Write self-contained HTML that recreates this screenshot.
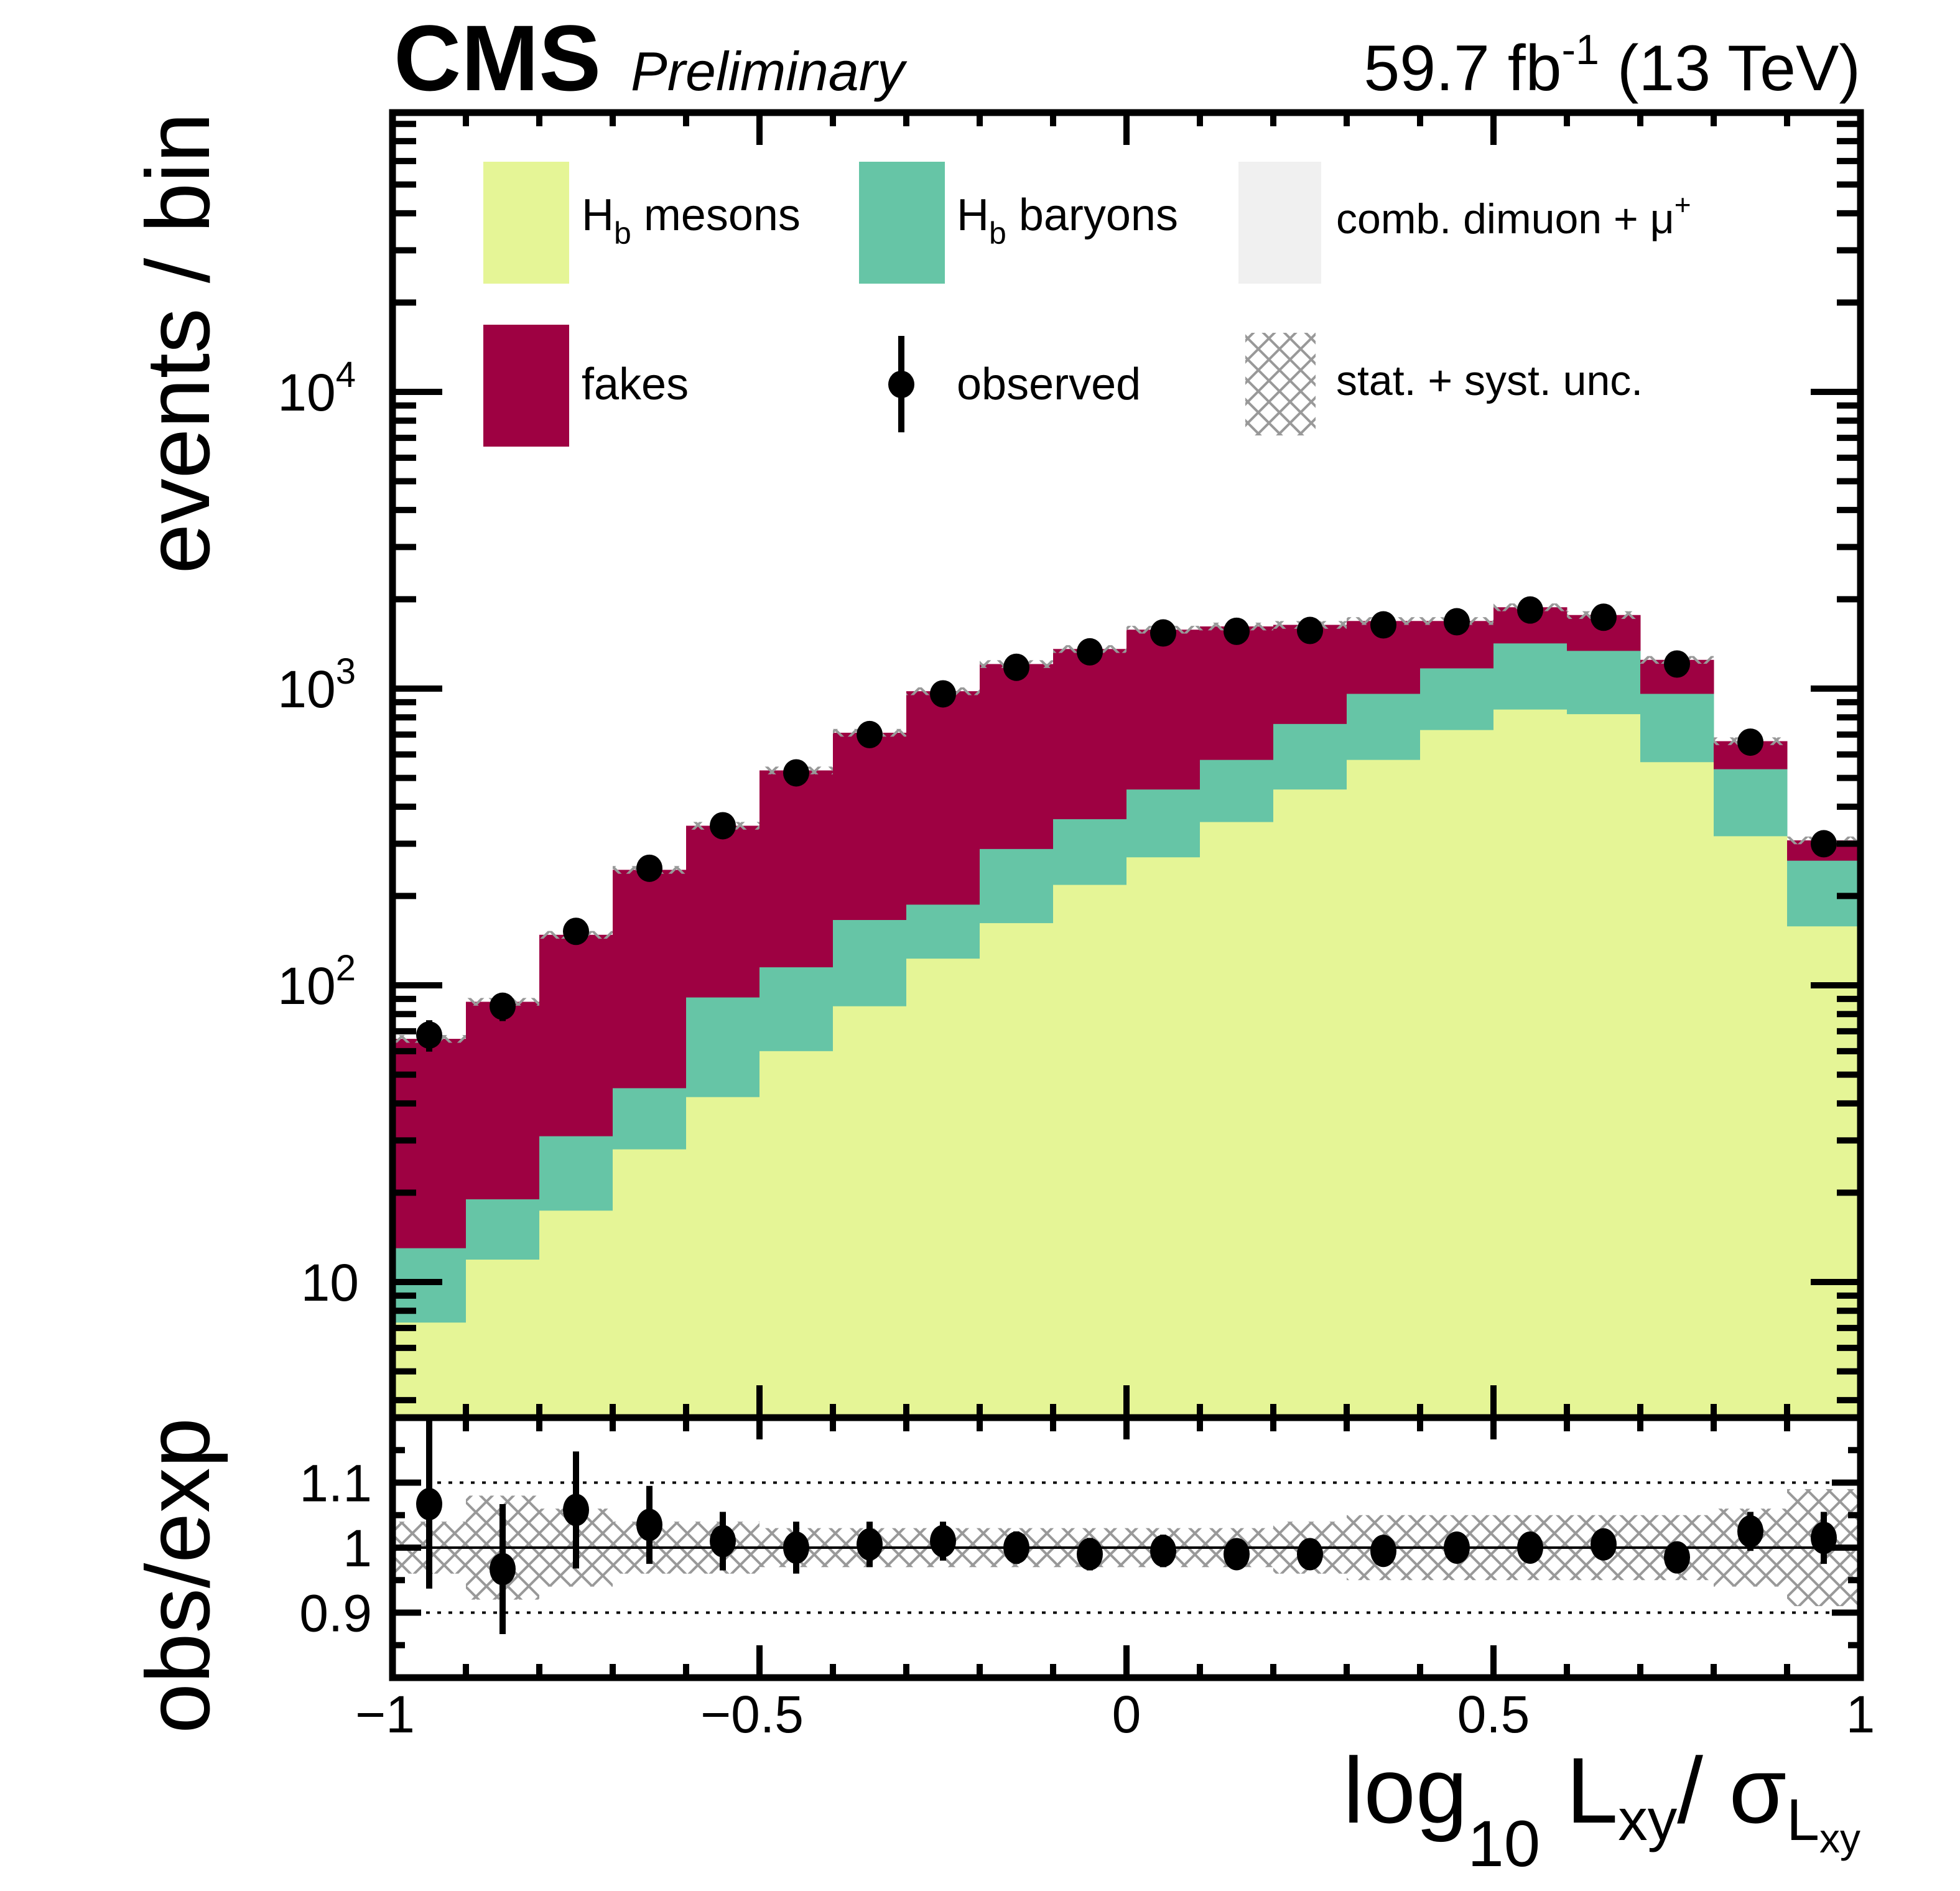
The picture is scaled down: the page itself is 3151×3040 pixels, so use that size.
<!DOCTYPE html>
<html><head><meta charset="utf-8"><style>
html,body{margin:0;padding:0;background:#fff;}
svg{display:block;font-family:"Liberation Sans",sans-serif;}
</style></head><body>
<svg id="chart" width="3151" height="3040" viewBox="0 0 3151 3040" xmlns="http://www.w3.org/2000/svg">
<defs>
<pattern id="hatch" patternUnits="userSpaceOnUse" width="34" height="34">
<path d="M0,0 L34,34 M34,0 L0,34" stroke="#999" stroke-width="4" fill="none"/>
</pattern>
<clipPath id="mainclip"><rect x="631" y="181" width="2360" height="2098"/></clipPath>
<clipPath id="ratioclip"><rect x="631" y="2279" width="2360" height="418"/></clipPath>
</defs>
<g id="main-layer" clip-path="url(#mainclip)"></g>
<g id="ratio-layer" clip-path="url(#ratioclip)"></g>
<g id="axis-layer"></g>

<text x="633" y="145" font-size="150" font-weight="bold">CMS</text>
<text x="1014" y="145" font-size="88" font-style="italic">Preliminary</text>
<text x="2991" y="145" font-size="104" text-anchor="end">59.7 fb<tspan font-size="68" dy="-42">-1</tspan><tspan dy="42"> (13 TeV)</tspan></text>

<text transform="translate(336,181) rotate(-90)" font-size="145" text-anchor="end">events / bin</text>
<text transform="translate(336,2279) rotate(-90)" font-size="145" text-anchor="end">obs/exp</text>
<text x="2991" y="2930" font-size="150" text-anchor="end">log<tspan font-size="105" dy="70">10</tspan><tspan dy="-70"> L</tspan><tspan font-size="95" dy="28">xy</tspan><tspan dy="-28">/ σ</tspan><tspan font-size="95" dy="28">L</tspan><tspan font-size="66" dy="20">xy</tspan></text>

<g>
<rect x="777" y="260" width="138" height="196" fill="#e5f596"/>
<text x="935" y="370" font-size="72">H<tspan font-size="50" dy="22">b</tspan><tspan dy="-22"> mesons</tspan></text>
<rect x="1381" y="260" width="138" height="196" fill="#66c5a6"/>
<text x="1538" y="370" font-size="72">H<tspan font-size="50" dy="22">b</tspan><tspan dy="-22"> baryons</tspan></text>
<rect x="1991" y="260" width="133" height="196" fill="#f0f0f0"/>
<text x="2148" y="375" font-size="68">comb. dimuon + μ<tspan font-size="46" dy="-30">+</tspan></text>
<rect x="777" y="522" width="138" height="196" fill="#9e0142"/>
<text x="935" y="642" font-size="72">fakes</text>
<line x1="1449" y1="540" x2="1449" y2="695" stroke="#000" stroke-width="10"/>
<ellipse cx="1449" cy="618" rx="21" ry="22" fill="#000"/>
<text x="1538" y="642" font-size="72">observed</text>
<rect x="2002" y="535" width="113" height="165" fill="url(#hatch)"/>
<text x="2148" y="635" font-size="68">stat. + syst. unc.</text>
</g>
</svg>
<script>
const binEdgesLow = [-1,-0.9,-0.8,-0.7,-0.6,-0.5,-0.4,-0.3,-0.2,-0.1,0,0.1,0.2,0.3,0.4,0.5,0.6,0.7,0.8,0.9];
const mesons  = [7.3,11.9,17.4,28,42,60,85,123,162,218,270,355,457,575,725,850,820,565,318,158];
const baryonsTop = [13,19,31,45,91,115,166,187,288,363,457,575,760,960,1170,1420,1340,960,535,263];
const totalExp = [66,88,148,245,345,530,710,980,1210,1360,1580,1620,1640,1690,1690,1880,1770,1250,665,308];
const observed = [68,85,152,248,345,520,700,960,1180,1330,1540,1560,1570,1640,1680,1840,1740,1210,660,300];
const ratioVals = [1.067,0.967,1.058,1.035,1.01,1.0,1.005,1.01,1.0,0.99,0.995,0.99,0.99,0.995,1.0,1.0,1.005,0.985,1.025,1.015];
const ratioErr = [0.13,0.10,0.09,0.06,0.045,0.04,0.035,0.03,0.025,0.025,0.025,0.02,0.02,0.02,0.02,0.02,0.02,0.02,0.03,0.04];
const uncHalf = [0.04,0.08,0.06,0.04,0.04,0.03,0.03,0.03,0.03,0.03,0.03,0.03,0.04,0.05,0.05,0.05,0.05,0.05,0.06,0.09];
const yMajorLabels = ["10","10²","10³","10⁴"];
const xTickLabels = ["\u22121","\u22120.5","0","0.5","1"];
const xTickValues = [-1,-0.5,0,0.5,1];
const ratioTickLabels = ["0.9","1","1.1"];
const ratioTickValues = [0.9,1,1.1];

const NS="http://www.w3.org/2000/svg";
const X0=631,X1=2991,YT=181,YD=2279,YB=2697;
const xs=v=>X0+(v+1)*(X1-X0)/2;
const ym=v=>630+(4-Math.log10(v))*477;
const yr=r=>2488-(r-1)*1045;
const BW=0.1;
function mk(tag,attrs,parent){const e=document.createElementNS(NS,tag);for(const k in attrs)e.setAttribute(k,attrs[k]);parent.appendChild(e);return e;}
const main=document.getElementById('main-layer');
const ratio=document.getElementById('ratio-layer');
const axes=document.getElementById('axis-layer');

binEdgesLow.forEach((lo,i)=>{
  const xa=xs(lo),xb=xs(lo+BW);
  let r=mk('rect',{x:xa,y:ym(totalExp[i]),width:xb-xa+0.5,height:YD-ym(totalExp[i]),fill:'#9e0142'},main);
  
  
  r=mk('rect',{x:xa,y:ym(baryonsTop[i]),width:xb-xa+0.5,height:YD-ym(baryonsTop[i]),fill:'#66c5a6'},main);
  
  
  r=mk('rect',{x:xa,y:ym(mesons[i]),width:xb-xa+0.5,height:YD-ym(mesons[i]),fill:'#e5f596'},main);
  
  
  const u=0.03;
  r=mk('rect',{x:xa,y:ym(totalExp[i]*(1+u)),width:xb-xa,height:ym(totalExp[i]*(1-u))-ym(totalExp[i]*(1+u)),fill:'url(#hatch)'},main);
  
  
  r=mk('rect',{x:xa,y:yr(1+uncHalf[i]),width:xb-xa,height:yr(1-uncHalf[i])-yr(1+uncHalf[i]),fill:'url(#hatch)'},ratio);
  
  
});
let l=mk('line',{x1:X0,x2:X1,y1:yr(1),y2:yr(1),stroke:'#000','stroke-width':4},ratio);


[1.1,0.9].forEach(v=>{
  const d=mk('line',{x1:X0,x2:X1,y1:yr(v),y2:yr(v),stroke:'#000','stroke-width':4,'stroke-dasharray':'6 12'},ratio);
  
  
});
binEdgesLow.forEach((lo,i)=>{
  const xc=xs(lo+BW/2);
  const so=Math.sqrt(observed[i]);
  let b=mk('line',{x1:xc,x2:xc,y1:ym(observed[i]+so),y2:ym(observed[i]-so),stroke:'#000','stroke-width':10},main);
  
  
  let p=mk('ellipse',{cx:xc,cy:ym(observed[i]),rx:21,ry:22,fill:'#000'},main);
  
  
  b=mk('line',{x1:xc,x2:xc,y1:yr(ratioVals[i]+ratioErr[i]),y2:yr(ratioVals[i]-ratioErr[i]),stroke:'#000','stroke-width':10},ratio);
  
  
  p=mk('ellipse',{cx:xc,cy:yr(ratioVals[i]),rx:21,ry:26,fill:'#000'},ratio);
  
  
});
for(let d=0;d<5;d++){
  for(let m=1;m<10;m++){
    const v=m*Math.pow(10,d);
    const y=ym(v);
    if(y<YT||y>YD)continue;
    const len=m===1?80:38;
    let t=mk('line',{x1:X0,x2:X0+len,y1:y,y2:y,stroke:'#000','stroke-width':10},axes);
    
    
    t=mk('line',{x1:X1,x2:X1-len,y1:y,y2:y,stroke:'#000','stroke-width':10},axes);
    
    
  }
}
yMajorLabels.forEach((lab,i)=>{
  const y=ym(Math.pow(10,i+1));
  const t=mk('text',{x:i===0?577:572,y:y+30,'font-size':84,'text-anchor':'end'},axes);
  if(i===0){t.textContent=lab;}
  else{
    const a=mk('tspan',{},t);a.textContent='10';
    const s=mk('tspan',{dy:-38,'font-size':58},t);s.textContent=String(i+1);
  }
  
  
});
for(let k=0;k<=20;k++){
  const v=-1+k*0.1;const x=xs(v);
  const major=(k%5===0);
  [[YT,1],[YD,-1],[YD,1],[YB,-1]].forEach(([y0,dir])=>{
    const len=major?(y0===YD&&dir===1?35:52):22;
    const t=mk('line',{x1:x,x2:x,y1:y0,y2:y0+dir*len,stroke:'#000','stroke-width':10},axes);
    
    
  });
}
xTickValues.forEach((v,i)=>{
  const t=mk('text',{x:xs(v)+(v===-1||v===-0.5?-12:0),y:2785,'font-size':84,'text-anchor':'middle'},axes);
  t.textContent=xTickLabels[i];
  
  
});
for(let k=0;k<=8;k++){
  const v=0.8+k*0.05;const y=yr(v);
  const major=[0.9,1.0,1.1].some(m=>Math.abs(m-v)<1e-6);
  const len=major?46:20;
  let t=mk('line',{x1:X0,x2:X0+len,y1:y,y2:y,stroke:'#000','stroke-width':10},axes);
  
  
  t=mk('line',{x1:X1,x2:X1-len,y1:y,y2:y,stroke:'#000','stroke-width':10},axes);
  
  
}
ratioTickValues.forEach((v,i)=>{
  const t=mk('text',{x:598,y:yr(v)+30,'font-size':84,'text-anchor':'end'},axes);
  t.textContent=ratioTickLabels[i];
  
  
});
let f=mk('rect',{x:X0,y:YT,width:X1-X0,height:YD-YT,fill:'none',stroke:'#000','stroke-width':11},axes);


f=mk('rect',{x:X0,y:YD,width:X1-X0,height:YB-YD,fill:'none',stroke:'#000','stroke-width':11},axes);


</script>
</body></html>
